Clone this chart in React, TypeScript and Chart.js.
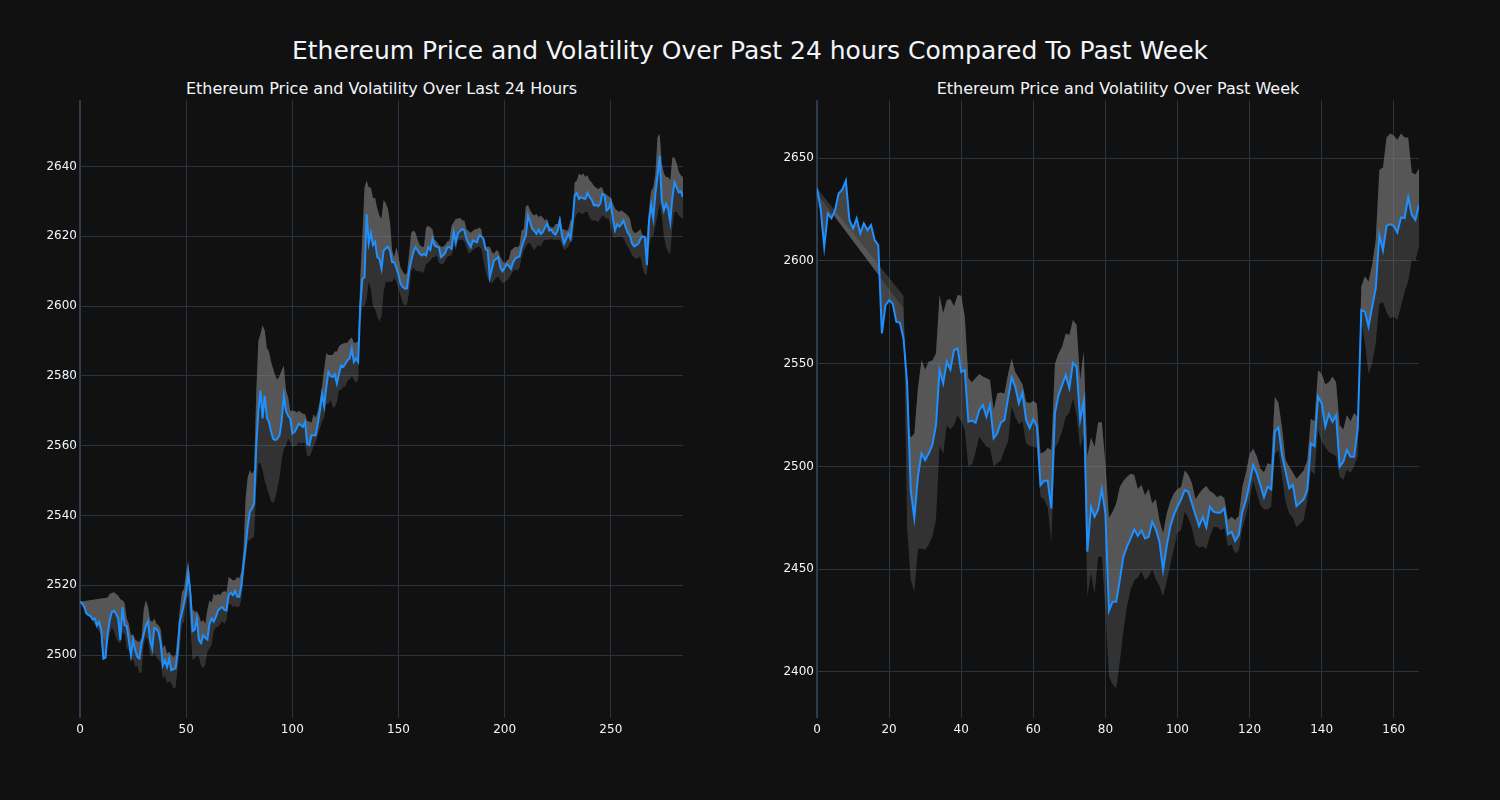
import React, { useEffect, useRef } from 'react';
import { Chart, registerables } from 'chart.js';

Chart.register(...registerables);

const FONT = "'DejaVu Sans', 'Open Sans', sans-serif";
const TEXT = '#f2f5fa';
const GRID = '#283442';
const ZERO = '#2e3c4e';
const LINE = '#1E90FF';
const FILL_UP = 'rgba(128,128,128,0.47)';
const FILL_LOW = 'rgba(128,128,128,0.3)';

const mainTitle = 'Ethereum Price and Volatility Over Past 24 hours Compared To Past Week';
const dayTitle = 'Ethereum Price and Volatility Over Last 24 Hours';
const weekTitle = 'Ethereum Price and Volatility Over Past Week';

// tick labels
const dayXTicks = [0, 50, 100, 150, 200, 250];
const dayYTicks = [2500, 2520, 2540, 2560, 2580, 2600, 2620, 2640];
const weekXTicks = [0, 20, 40, 60, 80, 100, 120, 140, 160];
const weekYTicks = [2400, 2450, 2500, 2550, 2600, 2650];

// ---- Last 24 hours (5-minute steps) ----
const dayPrice = [
  2515.3, 2514.8, 2513.8, 2512.0, 2511.5, 2511.2, 2510.2, 2510.5, 2508.5, 2509.5,
  2507.2, 2499.0, 2499.3, 2506.0, 2510.0, 2512.4, 2512.7, 2511.9, 2510.5, 2504.3,
  2513.8, 2508.6, 2508.3, 2504.3, 2500.0, 2504.3, 2501.4, 2499.5, 2499.0, 2503.3,
  2506.0, 2508.3, 2509.7, 2504.3, 2501.9, 2507.8, 2507.5, 2506.5, 2503.3, 2497.1,
  2498.6, 2496.6, 2499.0, 2495.7, 2496.0, 2496.2, 2501.0, 2509.7, 2512.0, 2514.8,
  2518.1, 2523.4, 2517.6, 2506.9, 2507.3, 2510.5, 2504.3, 2503.5, 2505.7, 2505.0,
  2504.5, 2509.0, 2510.5, 2509.6, 2511.0, 2512.8, 2513.4, 2513.8, 2513.0, 2512.8,
  2517.2, 2517.9, 2517.2, 2518.4, 2516.8, 2516.7, 2520.0, 2526.0, 2531.0, 2537.0,
  2541.0, 2542.0, 2543.4, 2559.6, 2570.0, 2575.9, 2567.8, 2574.4, 2568.0, 2566.8,
  2564.0, 2562.0, 2561.6, 2562.0, 2563.0, 2567.3, 2574.4, 2570.0, 2568.6, 2567.8,
  2563.5, 2563.9, 2565.0, 2566.3, 2565.9, 2565.4, 2566.8, 2560.6, 2560.2, 2563.0,
  2563.0, 2563.0, 2566.3, 2570.0, 2574.8, 2571.4, 2576.8, 2581.1, 2580.0, 2579.7,
  2580.5, 2577.8, 2580.7, 2583.0, 2582.6, 2583.5, 2584.5, 2585.0, 2587.8, 2584.0,
  2585.0, 2584.0, 2600.0, 2607.8, 2608.3, 2626.4, 2618.0, 2621.0, 2617.5, 2618.4,
  2614.0, 2613.6, 2610.7, 2615.9, 2616.5, 2617.0, 2615.9, 2612.6, 2612.6, 2611.0,
  2609.0, 2606.4, 2605.5, 2605.0, 2605.1, 2610.2, 2613.0, 2615.5, 2616.9, 2616.0,
  2615.0, 2614.5, 2615.0, 2614.5, 2616.9, 2616.1, 2619.3, 2617.4, 2617.0, 2616.9,
  2614.0, 2614.5, 2615.2, 2616.9, 2616.9, 2616.4, 2621.2, 2618.3, 2620.9, 2621.5,
  2622.1, 2621.7, 2619.3, 2618.0, 2616.9, 2618.8, 2618.5, 2618.3, 2620.2, 2620.0,
  2619.3, 2616.4, 2615.9, 2608.3, 2610.7, 2613.1, 2613.5, 2614.0, 2611.0, 2610.0,
  2611.0, 2612.0, 2611.5, 2610.7, 2612.6, 2613.6, 2614.0, 2614.2, 2616.9, 2618.8,
  2620.2, 2626.0, 2624.1, 2622.1, 2621.5, 2620.7, 2621.9, 2620.7, 2621.2, 2622.5,
  2623.6, 2621.7, 2621.9, 2620.9, 2620.5, 2621.7, 2624.5, 2620.2, 2617.9, 2619.3,
  2620.7, 2619.3, 2624.5, 2631.7, 2632.4, 2630.7, 2631.2, 2630.9, 2630.7, 2632.4,
  2631.2, 2630.5, 2628.9, 2629.0, 2628.6, 2629.3, 2632.2, 2632.0, 2627.4, 2627.9,
  2629.8, 2625.0, 2621.7, 2623.5, 2622.8, 2623.5, 2624.5, 2622.6, 2621.0, 2620.2,
  2617.9, 2617.1, 2617.5, 2617.9, 2619.3, 2620.0, 2619.8, 2611.7, 2624.5, 2628.9,
  2625.1, 2632.2, 2637.4, 2643.1, 2630.3, 2627.4, 2629.3, 2627.9, 2624.1, 2631.2,
  2635.5, 2634.0, 2632.6, 2632.9, 2631.2,
];

const dayUpper = [
  2515.3, null, null, null, null, null, null, null, null, null,
  null, null, null, 2516.5, 2517.6, 2517.8, 2518.0, 2517.5, 2517.0, 2516.0,
  2515.7, 2515.0, 2510.5, 2509.0, 2505.7, 2506.0, 2504.5, 2504.0, 2503.8, 2505.0,
  2513.0, 2515.7, 2514.0, 2510.0, 2509.5, 2510.5, 2509.0, 2508.6, 2507.5, 2502.0,
  2503.0, 2500.5, 2501.0, 2500.0, 2499.5, 2500.0, 2505.7, 2513.0, 2518.0, 2519.0,
  2524.0, 2527.0, 2520.0, 2513.0, 2512.5, 2512.5, 2511.5, 2509.5, 2510.0, 2509.0,
  2513.0, 2515.7, 2515.0, 2517.6, 2517.0, 2517.6, 2517.2, 2518.0, 2518.4, 2518.0,
  2522.4, 2522.0, 2521.5, 2521.5, 2522.4, 2522.0, 2524.0, 2530.0, 2545.0, 2551.0,
  2553.0, 2552.0, 2553.0, 2575.0, 2590.0, 2592.0, 2594.5, 2593.0, 2588.0, 2587.0,
  2584.0, 2582.0, 2580.0, 2579.0, 2580.0, 2581.6, 2583.0, 2576.0, 2574.0, 2570.0,
  2570.0, 2570.0, 2569.5, 2570.0, 2569.6, 2569.2, 2569.0, 2567.0, 2567.0, 2566.5,
  2569.0, 2568.0, 2570.0, 2573.0, 2577.0, 2582.0, 2586.6, 2586.0, 2586.0, 2586.0,
  2587.0, 2587.0, 2588.5, 2589.0, 2589.3, 2589.5, 2589.5, 2590.5, 2591.0, 2589.5,
  2589.5, 2590.0, 2608.0, 2620.0, 2634.0, 2636.0, 2634.0, 2634.0, 2631.0, 2631.0,
  2628.0, 2626.0, 2625.0, 2630.5, 2629.5, 2628.0, 2624.0, 2616.0, 2614.0, 2617.0,
  2614.0, 2611.0, 2610.0, 2609.0, 2609.5, 2615.0, 2621.0, 2621.7, 2621.0, 2619.0,
  2617.5, 2617.0, 2617.0, 2622.5, 2623.0, 2622.5, 2622.0, 2619.0, 2618.5, 2617.5,
  2617.0, 2617.0, 2617.5, 2618.5, 2618.7, 2623.0, 2624.0, 2625.0, 2625.0, 2625.3,
  2624.5, 2624.5, 2622.0, 2621.5, 2621.0, 2621.5, 2622.0, 2622.0, 2622.5, 2622.0,
  2618.0, 2617.0, 2617.0, 2617.0, 2615.5, 2615.0, 2616.0, 2615.8, 2614.0, 2613.0,
  2612.2, 2613.0, 2613.5, 2616.0, 2616.5, 2617.0, 2616.9, 2617.5, 2621.7, 2622.0,
  2628.6, 2629.0, 2627.5, 2626.4, 2626.0, 2626.4, 2625.5, 2626.0, 2625.3, 2624.5,
  2625.0, 2623.0, 2622.5, 2622.5, 2623.5, 2623.5, 2626.0, 2622.0, 2622.0, 2621.5,
  2622.0, 2624.5, 2625.0, 2635.5, 2636.0, 2637.9, 2637.5, 2638.0, 2637.0, 2637.5,
  2636.0, 2635.5, 2634.5, 2634.0, 2633.5, 2634.0, 2634.0, 2632.0, 2632.0, 2631.5,
  2631.0, 2629.3, 2628.0, 2627.4, 2627.0, 2627.5, 2627.0, 2626.5, 2626.0, 2625.0,
  2622.0, 2621.0, 2621.0, 2621.5, 2622.0, 2620.0, 2620.0, 2619.5, 2628.0, 2633.0,
  2634.0, 2638.0, 2648.4, 2649.4, 2641.0, 2638.0, 2637.0, 2637.0, 2636.0, 2642.6,
  2642.6, 2641.0, 2638.5, 2637.5, 2637.0,
];

const dayLower = [
  2515.3, null, null, null, null, null, null, null, null, null,
  null, null, null, 2503.0, 2506.0, 2508.0, 2507.0, 2505.0, 2503.7, 2503.5,
  2506.6, 2506.0, 2502.0, 2501.4, 2498.6, 2498.8, 2496.7, 2497.0, 2494.8, 2495.0,
  2503.0, 2505.2, 2504.5, 2500.0, 2499.5, 2500.5, 2499.5, 2498.6, 2498.0, 2493.3,
  2494.0, 2492.0, 2492.5, 2491.9, 2490.5, 2490.7, 2496.2, 2502.0, 2509.0, 2509.5,
  2516.0, 2517.0, 2508.0, 2498.6, 2499.0, 2500.0, 2499.5, 2497.0, 2496.2, 2497.5,
  2501.0, 2502.0, 2503.0, 2507.0, 2508.0, 2508.0, 2509.0, 2509.7, 2509.0, 2510.0,
  2514.8, 2514.5, 2513.9, 2514.0, 2513.8, 2513.8, 2516.0, 2522.0, 2527.0, 2532.8,
  2533.0, 2533.5, 2534.0, 2548.0, 2555.0, 2555.0, 2553.0, 2550.0, 2548.0, 2546.0,
  2544.0, 2543.5, 2545.0, 2548.0, 2551.0, 2556.0, 2559.0, 2560.0, 2562.0, 2561.0,
  2559.6, 2560.0, 2560.0, 2561.0, 2560.5, 2561.0, 2560.5, 2557.0, 2557.0, 2558.0,
  2560.0, 2561.0, 2563.0, 2565.0, 2567.0, 2568.0, 2572.0, 2572.0, 2573.0, 2571.0,
  2571.0, 2572.5, 2576.0, 2576.0, 2577.0, 2577.0, 2578.7, 2579.0, 2580.0, 2579.0,
  2578.0, 2579.0, 2595.0, 2600.0, 2600.0, 2602.0, 2607.0, 2605.0, 2600.0, 2599.0,
  2597.0, 2595.5, 2597.0, 2604.0, 2607.0, 2607.0, 2607.0, 2607.0, 2608.0, 2607.0,
  2605.0, 2603.0, 2601.0, 2600.2, 2600.5, 2604.0, 2610.0, 2611.0, 2610.2, 2610.0,
  2610.0, 2609.5, 2610.0, 2612.0, 2612.5, 2613.0, 2614.0, 2614.0, 2614.6, 2612.5,
  2612.0, 2612.0, 2613.0, 2614.0, 2614.5, 2614.5, 2617.5, 2616.0, 2619.0, 2619.0,
  2619.0, 2618.5, 2617.0, 2615.0, 2615.5, 2616.0, 2616.5, 2616.9, 2617.0, 2616.5,
  2613.0, 2610.0, 2608.0, 2607.0, 2606.5, 2607.5, 2608.0, 2608.5, 2607.5, 2606.5,
  2607.0, 2607.3, 2608.0, 2609.0, 2610.0, 2610.5, 2610.2, 2611.0, 2614.0, 2616.0,
  2617.0, 2618.0, 2618.0, 2616.9, 2616.0, 2617.0, 2617.5, 2617.0, 2618.5, 2619.0,
  2619.0, 2619.0, 2619.2, 2619.0, 2618.8, 2619.0, 2619.0, 2617.5, 2616.0, 2616.5,
  2617.0, 2618.3, 2619.0, 2625.0, 2626.5, 2627.0, 2626.5, 2626.5, 2627.0, 2627.0,
  2625.5, 2624.5, 2624.5, 2624.5, 2624.0, 2625.0, 2626.0, 2625.5, 2625.0, 2625.0,
  2623.0, 2619.8, 2619.5, 2620.0, 2619.8, 2620.0, 2619.5, 2618.0, 2617.0, 2616.0,
  2614.5, 2614.0, 2613.5, 2614.0, 2614.0, 2611.0, 2609.2, 2609.0, 2617.0, 2620.0,
  2620.0, 2623.0, 2626.0, 2629.3, 2626.0, 2620.0, 2617.0, 2615.5, 2614.8, 2623.0,
  2627.0, 2627.0, 2626.0, 2625.5, 2625.0,
];

// ---- Past week (hourly steps) ----
const weekPrice = [
  2635.3, 2625.5, 2606.9, 2623.1, 2620.7, 2624.7, 2632.8, 2634.7, 2639.0, 2619.8,
  2615.8, 2620.7, 2613.4, 2618.2, 2615.0, 2617.4, 2610.1, 2607.7, 2564.7, 2578.5,
  2580.9, 2579.3, 2570.4, 2569.9, 2562.3, 2540.4, 2488.5, 2474.8, 2495.0, 2506.4,
  2503.1, 2506.4, 2510.4, 2520.1, 2546.9, 2540.4, 2550.9, 2547.2, 2556.6, 2557.4,
  2546.0, 2546.9, 2521.8, 2522.3, 2521.3, 2527.4, 2529.9, 2524.2, 2529.9, 2513.7,
  2516.1, 2521.3, 2522.6, 2533.1, 2543.3, 2538.8, 2530.7, 2535.9, 2522.6, 2518.6,
  2523.0, 2519.7, 2490.9, 2493.0, 2493.0, 2479.6, 2525.8, 2534.7, 2539.6, 2544.5,
  2538.0, 2550.4, 2548.5, 2522.6, 2532.0, 2458.5, 2480.4, 2475.5, 2479.1, 2489.0,
  2477.2, 2429.8, 2434.2, 2434.2, 2444.7, 2456.1, 2461.0, 2465.0, 2469.4, 2466.2,
  2468.8, 2465.0, 2465.8, 2473.1, 2469.4, 2463.4, 2449.6, 2461.0, 2470.7, 2476.4,
  2480.4, 2484.0, 2488.5, 2487.7, 2482.0, 2476.4, 2471.0, 2475.3, 2470.4, 2480.4,
  2478.0, 2477.5, 2477.6, 2479.6, 2467.0, 2468.2, 2463.7, 2466.6, 2478.0, 2483.6,
  2491.8, 2500.7, 2496.6, 2491.0, 2485.0, 2490.2, 2488.9, 2516.9, 2519.0, 2505.5,
  2497.4, 2489.4, 2491.0, 2480.7, 2482.3, 2484.0, 2488.5, 2511.2, 2509.9, 2533.9,
  2530.7, 2519.4, 2525.5, 2521.7, 2525.0, 2499.9, 2502.3, 2508.0, 2504.7, 2504.7,
  2518.5, 2576.1, 2575.3, 2568.0, 2577.7, 2586.6, 2612.5, 2605.2, 2617.0, 2617.9,
  2617.0, 2613.8, 2621.2, 2620.8, 2630.9, 2622.4, 2620.0, 2627.3,
];

const weekUpper = [
  2633.0, null, null, null, null, null, null, null, null, null,
  null, null, null, null, null, null, null, null, null, null,
  null, null, null, null, 2577.0, 2525.0, 2514.0, 2516.0, 2538.0, 2551.8,
  2547.0, 2551.0, 2551.5, 2555.0, 2583.4, 2574.5, 2581.0, 2581.5, 2578.0, 2583.4,
  2583.0, 2572.9, 2542.9, 2541.0, 2543.0, 2545.0, 2543.8, 2542.9, 2542.0, 2527.5,
  2535.6, 2536.0, 2535.5, 2545.0, 2552.5, 2546.0, 2543.0, 2540.0, 2531.5, 2530.7,
  2532.0, 2530.5, 2506.4, 2507.0, 2509.0, 2508.0, 2550.0, 2555.0, 2558.2, 2564.7,
  2564.0, 2571.2, 2569.0, 2542.0, 2556.0, 2505.0, 2514.0, 2509.6, 2521.5, 2521.5,
  2501.5, 2475.0, 2478.0, 2482.0, 2490.0, 2493.0, 2495.0, 2496.5, 2496.0, 2489.0,
  2491.0, 2486.0, 2489.0, 2482.0, 2484.0, 2474.0, 2467.5, 2477.0, 2483.0, 2487.0,
  2489.0, 2490.0, 2498.0, 2496.0, 2492.0, 2484.0, 2486.8, 2489.0, 2490.5, 2488.0,
  2487.0, 2485.0, 2486.0, 2484.5, 2474.0, 2475.5, 2474.0, 2476.0, 2490.0, 2497.0,
  2506.0, 2508.7, 2505.0, 2499.0, 2497.0, 2501.5, 2501.0, 2533.9, 2531.0, 2519.0,
  2503.0, 2500.0, 2497.0, 2494.0, 2496.0, 2498.0, 2503.0, 2523.2, 2522.0, 2546.9,
  2545.0, 2540.0, 2541.0, 2543.8, 2541.0, 2520.0, 2518.0, 2525.0, 2522.0, 2526.0,
  2524.0, 2587.5, 2592.5, 2590.0, 2598.0, 2610.0, 2644.2, 2645.5, 2660.0, 2662.0,
  2661.0, 2659.0, 2662.0, 2660.0, 2660.0, 2643.0, 2642.0, 2645.0,
];

const weekLower = [
  2635.3, null, null, null, null, null, null, null, null, null,
  null, null, null, null, null, null, null, null, null, null,
  null, null, null, null, 2583.0, 2470.0, 2445.0, 2439.0, 2460.0, 2460.0,
  2459.4, 2462.0, 2466.0, 2474.0, 2510.0, 2506.0, 2520.0, 2518.0, 2520.0, 2525.0,
  2522.0, 2517.8, 2500.0, 2501.0, 2507.0, 2514.5, 2512.0, 2509.6, 2509.0, 2500.0,
  2501.5, 2503.0, 2508.0, 2512.0, 2529.0, 2524.0, 2520.5, 2522.0, 2511.2, 2510.0,
  2509.6, 2509.0, 2485.3, 2484.0, 2480.0, 2463.0, 2509.0, 2512.0, 2517.0, 2524.0,
  2526.0, 2533.0, 2525.0, 2509.0, 2516.0, 2436.7, 2448.0, 2438.0, 2456.1, 2456.0,
  2430.0, 2397.8, 2394.0, 2392.1, 2405.0, 2420.0, 2432.0, 2440.0, 2444.5, 2446.0,
  2449.0, 2444.8, 2446.5, 2450.0, 2445.0, 2442.0, 2436.7, 2444.0, 2452.0, 2460.0,
  2468.0, 2469.0, 2478.0, 2475.0, 2470.0, 2462.0, 2460.5, 2461.0, 2460.0, 2466.0,
  2470.5, 2470.5, 2469.0, 2470.0, 2461.0, 2462.0, 2457.6, 2459.0, 2470.0, 2476.0,
  2484.0, 2493.0, 2487.0, 2481.0, 2479.0, 2479.0, 2480.5, 2506.0, 2508.0, 2495.0,
  2483.0, 2477.0, 2475.0, 2470.5, 2472.0, 2474.0, 2483.0, 2498.0, 2496.0, 2518.0,
  2512.0, 2509.5, 2507.0, 2506.0, 2505.0, 2495.0, 2493.5, 2498.4, 2497.0, 2500.0,
  2505.0, 2571.0, 2560.0, 2545.0, 2550.0, 2560.0, 2579.0, 2580.0, 2575.0, 2572.0,
  2573.0, 2571.3, 2578.0, 2585.0, 2590.0, 2600.4, 2600.0, 2607.0,
];

const CANVAS_W = 700;
const CANVAS_H = 660;
const CANVAS_TOP = 90;

type PanelProps = {
  left: number;
  padRight: number;
  price: number[];
  upper: (number | null)[];
  lower: (number | null)[];
  xMax: number;
  xTicks: number[];
  yMin: number;
  yMax: number;
  yTicks: number[];
};

function toPoints(values: (number | null)[]) {
  return values.map((v, i) => ({ x: i, y: v }));
}

function Panel(p: PanelProps) {
  const ref = useRef<HTMLCanvasElement | null>(null);
  useEffect(() => {
    if (!ref.current) return;
    const tickFont = { family: FONT, size: 12 };
    const chart = new Chart(ref.current, {
      type: 'line',
      data: {
        datasets: [
          {
            data: toPoints(p.price),
            borderColor: LINE,
            borderWidth: 2,
            fill: false,
            pointRadius: 0,
            tension: 0,
          },
          {
            data: toPoints(p.upper),
            borderColor: 'rgba(0,0,0,0)',
            borderWidth: 0,
            backgroundColor: FILL_UP,
            fill: '-1',
            spanGaps: true,
            pointRadius: 0,
            tension: 0,
          },
          {
            data: toPoints(p.lower),
            borderColor: 'rgba(0,0,0,0)',
            borderWidth: 0,
            backgroundColor: FILL_LOW,
            fill: '-1',
            spanGaps: true,
            pointRadius: 0,
            tension: 0,
          },
        ],
      } as any,
      options: {
        responsive: false,
        animation: false,
        events: [],
        layout: { padding: { left: 0, right: p.padRight, top: 10, bottom: 0 } },
        plugins: {
          legend: { display: false },
          tooltip: { enabled: false },
          title: { display: false },
        },
        scales: {
          x: {
            type: 'linear',
            min: 0,
            max: p.xMax,
            border: { display: false },
            grid: {
              color: (ctx: any) => (ctx.tick && ctx.tick.value === 0 ? ZERO : GRID),
              lineWidth: (ctx: any) => (ctx.tick && ctx.tick.value === 0 ? 2 : 1),
              drawTicks: false,
            },
            afterBuildTicks: (s: any) => {
              s.ticks = p.xTicks.map((v) => ({ value: v }));
            },
            ticks: {
              color: TEXT,
              font: tickFont,
              padding: 5,
              maxRotation: 0,
              autoSkip: false,
              callback: (v: any) => String(v),
            },
            afterFit: (s: any) => {
              s.height = 32;
            },
          },
          y: {
            type: 'linear',
            min: p.yMin,
            max: p.yMax,
            border: { display: false },
            grid: { color: GRID, lineWidth: 1, drawTicks: false },
            afterBuildTicks: (s: any) => {
              s.ticks = p.yTicks.map((v) => ({ value: v }));
            },
            ticks: {
              color: TEXT,
              font: tickFont,
              padding: 3,
              autoSkip: false,
              callback: (v: any) => String(v),
            },
            afterFit: (s: any) => {
              s.width = 80;
            },
          },
        },
      } as any,
    });
    return () => chart.destroy();
  }, []);
  return (
    <canvas
      ref={ref}
      width={CANVAS_W}
      height={CANVAS_H}
      style={{ position: 'absolute', left: p.left, top: CANVAS_TOP, width: CANVAS_W, height: CANVAS_H }}
    />
  );
}

export default function App() {
  return (
    <div
      style={{
        position: 'absolute',
        left: 0,
        top: 0,
        width: 1500,
        height: 800,
        background: '#111111',
        fontFamily: FONT,
        color: TEXT,
        overflow: 'hidden',
      }}
    >
      <div
        style={{
          position: 'absolute',
          left: 0,
          width: 1500,
          top: 38,
          textAlign: 'center',
          fontSize: 25,
          lineHeight: '25px',
          whiteSpace: 'nowrap',
        }}
      >
        {mainTitle}
      </div>
      <div
        style={{
          position: 'absolute',
          left: 80,
          width: 603,
          top: 81,
          textAlign: 'center',
          fontSize: 16,
          lineHeight: '16px',
          whiteSpace: 'nowrap',
        }}
      >
        {dayTitle}
      </div>
      <div
        style={{
          position: 'absolute',
          left: 817,
          width: 602,
          top: 81,
          textAlign: 'center',
          fontSize: 16,
          lineHeight: '16px',
          whiteSpace: 'nowrap',
        }}
      >
        {weekTitle}
      </div>
      <Panel
        left={0}
        padRight={17}
        price={dayPrice}
        upper={dayUpper}
        lower={dayLower}
        xMax={284}
        xTicks={dayXTicks}
        yMin={2482}
        yMax={2659}
        yTicks={dayYTicks}
      />
      <Panel
        left={737}
        padRight={18}
        price={weekPrice}
        upper={weekUpper}
        lower={weekLower}
        xMax={167}
        xTicks={weekXTicks}
        yMin={2377.6}
        yMax={2678.2}
        yTicks={weekYTicks}
      />
    </div>
  );
}
